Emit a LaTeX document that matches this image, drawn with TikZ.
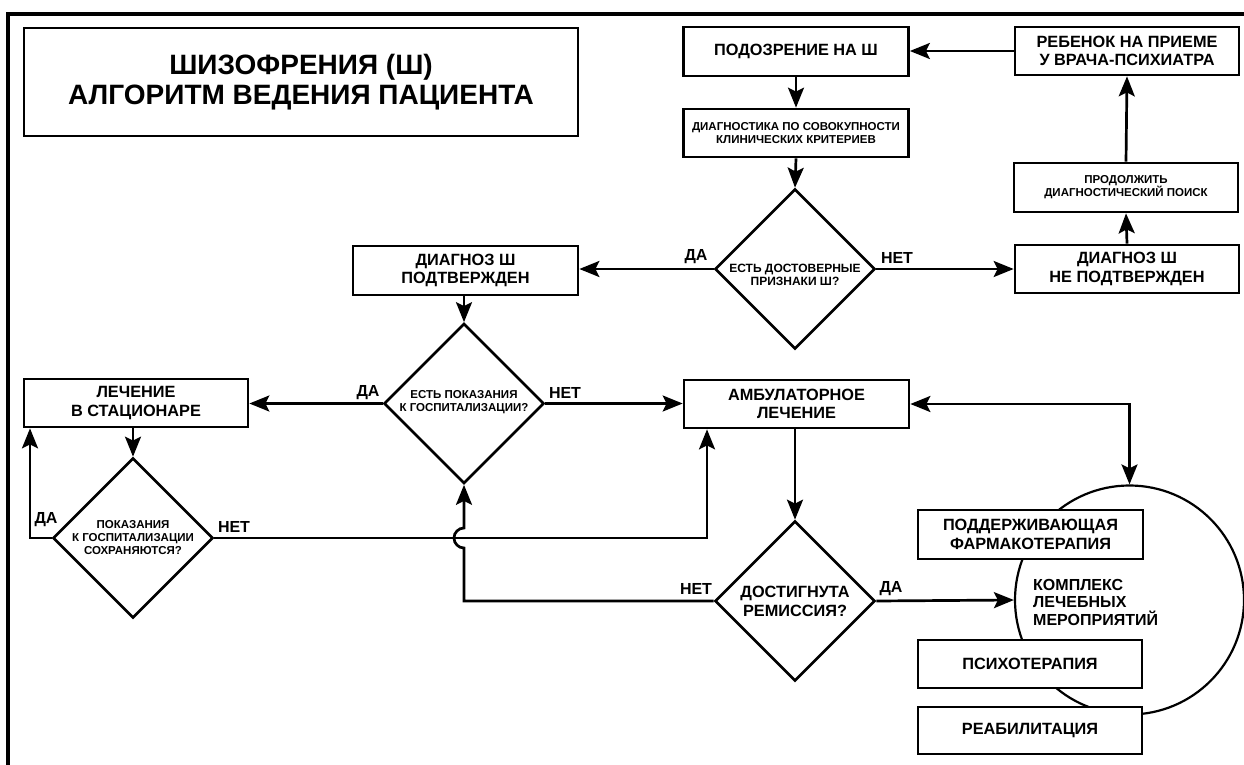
\documentclass[tikz,border=0pt]{standalone}
\usepackage{fontspec}
\setmainfont{Liberation Sans}
\usetikzlibrary{shapes.geometric,arrows.meta}
\newcommand{\fmed}{\bfseries\fontsize{16.3}{18.5}\selectfont}
\newcommand{\fsml}{\bfseries\fontsize{11.5}{13}\selectfont}
\newcommand{\fttl}{\bfseries\fontsize{28}{30.5}\selectfont}
\newcommand{\flab}{\bfseries\fontsize{16}{18}\selectfont}
\begin{document}
\begin{tikzpicture}[x=1pt,y=-1pt,
  box/.style={draw,line width=2.7pt,fill=white,rectangle,inner sep=0pt,align=center,font=\fmed},
  dia/.style={draw,line width=2.7pt,diamond,aspect=1,minimum width=160pt,minimum height=160pt,inner sep=0pt},
  conn/.style={line width=2.7pt,-{Stealth[length=20pt,width=16pt,inset=4pt]}},
  lbl/.style={font=\flab,inner sep=0pt},
  dtxt/.style={font=\fsml,align=center,inner sep=0pt}
]
\useasboundingbox (0,0) rectangle (1244,765);
% frame
\draw[line width=3.6pt] (8,765) -- (8,14) -- (1244,14);
% title
\node[box,minimum width=554pt,minimum height=108pt,font=\fttl] (title) at (301,82) {ШИЗОФРЕНИЯ (Ш)\\АЛГОРИТМ ВЕДЕНИЯ ПАЦИЕНТА};
% top right
\node[box,minimum width=225pt,minimum height=49pt] (podozr) at (796,51.5) {ПОДОЗРЕНИЕ НА Ш};
\node[box,minimum width=224pt,minimum height=48pt] (rebenok) at (1127,51) {РЕБЕНОК НА ПРИЕМЕ\\У ВРАЧА-ПСИХИАТРА};
\node[box,minimum width=225pt,minimum height=48pt,font=\fsml] (diagnost) at (796,133) {ДИАГНОСТИКА ПО СОВОКУПНОСТИ\\КЛИНИЧЕСКИХ КРИТЕРИЕВ};
\node[box,minimum width=224pt,minimum height=49pt,font=\fsml] (prodol) at (1126,187.5) {ПРОДОЛЖИТЬ\\ДИАГНОСТИЧЕСКИЙ ПОИСК};
\node[box,minimum width=224pt,minimum height=48pt] (ne) at (1127,269) {ДИАГНОЗ Ш\\НЕ ПОДТВЕРЖДЕН};
\node[dia] (d1) at (795,269) {};
\node[dtxt,font=\bfseries\fontsize{12}{13.5}\selectfont] (d1t) at (795,275) {ЕСТЬ ДОСТОВЕРНЫЕ\\ПРИЗНАКИ Ш?};
\node[box,minimum width=225pt,minimum height=49pt] (podtv) at (465.5,270.5) {ДИАГНОЗ Ш\\ПОДТВЕРЖДЕН};
% middle
\node[dia] (d2) at (464,403.5) {};
\node[dtxt] (d2t) at (464,402.5) {ЕСТЬ ПОКАЗАНИЯ\\К ГОСПИТАЛИЗАЦИИ?};
\node[box,minimum width=224pt,minimum height=48pt] (lech) at (136,403) {ЛЕЧЕНИЕ\\В СТАЦИОНАРЕ};
\node[box,minimum width=225pt,minimum height=48pt] (amb) at (796.5,404) {АМБУЛАТОРНОЕ\\ЛЕЧЕНИЕ};
\node[dia] (d3) at (133,538) {};
\node[dtxt] (d3t) at (133,538) {ПОКАЗАНИЯ\\К ГОСПИТАЛИЗАЦИИ\\СОХРАНЯЮТСЯ?};
\node[dia] (d4) at (795,601) {};
\node[dtxt,font=\fmed] (d4t) at (795,601.5) {ДОСТИГНУТА\\РЕМИССИЯ?};
% complex
\node[draw,circle,line width=2.2pt,minimum size=229pt,inner sep=0pt] (circ) at (1129.5,600) {};
\node[box,minimum width=225pt,minimum height=49pt] (podd) at (1030.5,534.5) {ПОДДЕРЖИВАЮЩАЯ\\ФАРМАКОТЕРАПИЯ};
\node[box,minimum width=224pt,minimum height=48pt] (psih) at (1030,664) {ПСИХОТЕРАПИЯ};
\node[box,minimum width=224pt,minimum height=47pt] (reab) at (1030,730.5) {РЕАБИЛИТАЦИЯ};
\node[font=\bfseries\fontsize{16}{17.5}\selectfont,align=left,anchor=west,inner sep=0pt] (kompl) at (1033,602) {КОМПЛЕКС\\ЛЕЧЕБНЫХ\\МЕРОПРИЯТИЙ};
% connectors
\draw[conn] (rebenok.west) -- (rebenok.west -| podozr.east);
\draw[conn] (podozr.south) -- (diagnost.north);
\draw[conn] (diagnost.south) -- (d1.north);
\draw[conn] (d1.west) -- (d1.west -| podtv.east);
\draw[conn] (d1.east) -- (d1.east -| ne.west);
\draw[conn] (ne.north) -- (prodol.south);
\draw[conn] (prodol.north) -- (rebenok.south);
\draw[conn] (podtv.south -| d2.north) -- (d2.north);
\draw[conn] (d2.west) -- (d2.west -| lech.east);
\draw[conn] (d2.east) -- (d2.east -| amb.west);
\draw[conn] (d3.north |- lech.south) -- (d3.north);
\coordinate (c2) at (30,538);
\draw[conn] (d3.west) -- (c2) -- (c2 |- lech.south);
\coordinate (c1) at (707,538);
\draw[conn] (d3.east) -- (c1) -- (c1 |- amb.south);
\draw[conn] (amb.south -| d4.north) -- (d4.north);
\draw[conn] (d4.west) -- (d4.west -| d2.south) -- ++(0,-53) arc[start angle=270,end angle=90,radius=10pt] -- (d2.south);
\draw[conn] (d4.east) -- (circ.west);
\draw[line width=2.7pt,{Stealth[length=20pt,width=16pt,inset=4pt]}-{Stealth[length=20pt,width=16pt,inset=4pt]}] (amb.east) -- (amb.east -| circ.north) -- (circ.north);
% labels
\node[lbl] (l1) at (696,257) {ДА};
\node[lbl] (l2) at (897,258) {НЕТ};
\node[lbl] (l3) at (368,393) {ДА};
\node[lbl] (l4) at (565,393) {НЕТ};
\node[lbl] (l5) at (46,520) {ДА};
\node[lbl] (l6) at (234,527) {НЕТ};
\node[lbl] (l7) at (696,589) {НЕТ};
\node[lbl] (l8) at (891,589) {ДА};
\end{tikzpicture}
\end{document}
